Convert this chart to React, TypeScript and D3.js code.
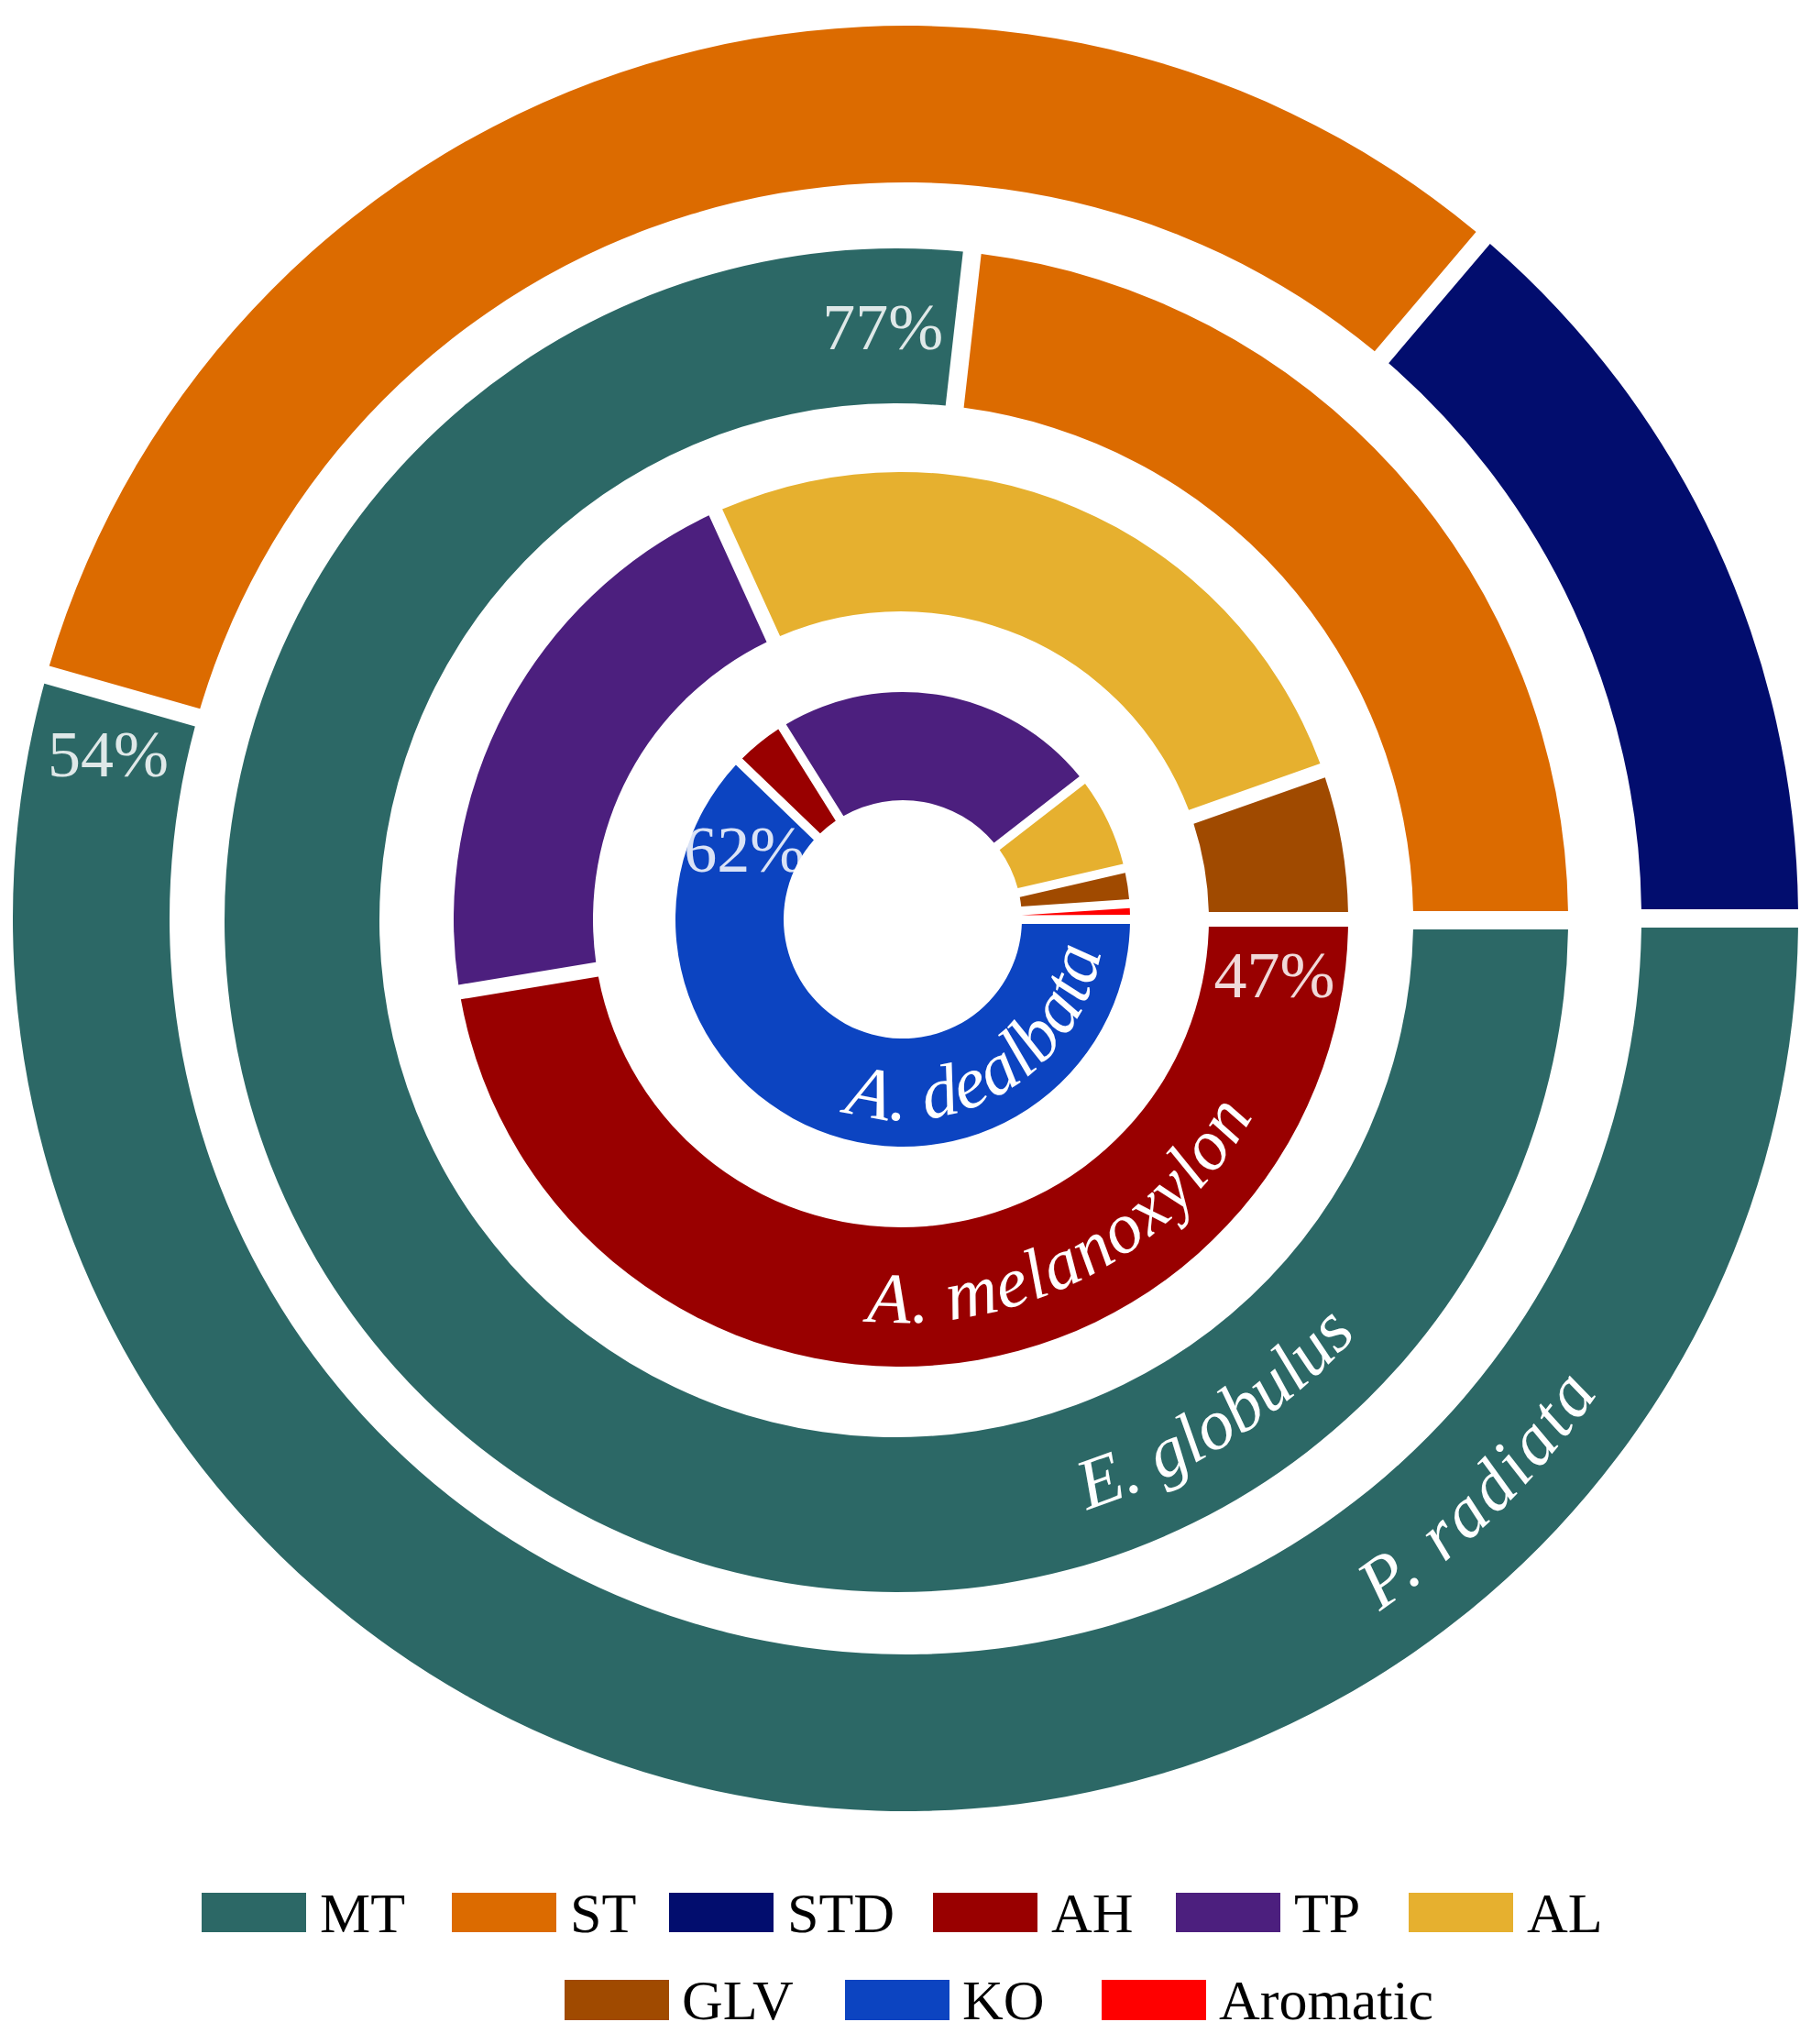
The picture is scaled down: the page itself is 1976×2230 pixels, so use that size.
import React from 'react';
import * as d3 from 'd3';

// ---------- data ----------
const categories = ['MT', 'ST', 'STD', 'AH', 'TP', 'AL', 'GLV', 'KO', 'Aromatic'];
const categoryColors = ['#2C6866', '#DC6B00', '#020D6E', '#990000', '#4C1F7E', '#E6B02F', '#A04A00', '#0C44C1', '#FF0000'];

const species = ['P. radiata', 'E. globulus', 'A. melanoxylon', 'A. dealbata'];

const pRadiataCats = ['MT', 'ST', 'STD'];
const pRadiataValues = [54.4, 31.8, 13.8];
const eGlobulusCats = ['MT', 'ST'];
const eGlobulusValues = [76.8, 23.2];
const aMelanoxylonCats = ['AH', 'TP', 'AL', 'GLV'];
const aMelanoxylonValues = [47.4, 20.8, 26.4, 5.4];
const aDealbataCats = ['KO', 'AH', 'TP', 'AL', 'GLV', 'Aromatic'];
const aDealbataValues = [62.2, 3.9, 23.4, 6.9, 2.5, 1.1];

const percentLabels = ['54%', '77%', '47%', '62%'];

const legendRow1 = ['MT', 'ST', 'STD', 'AH', 'TP', 'AL'];
const legendRow2 = ['GLV', 'KO', 'Aromatic'];

// ---------- layout ----------
const W = 1976;
const H = 2230;
const FONT = '"Liberation Serif", "Times New Roman", serif';

const ringCats = [pRadiataCats, eGlobulusCats, aMelanoxylonCats, aDealbataCats];
const ringValues = [pRadiataValues, eGlobulusValues, aMelanoxylonValues, aDealbataValues];

const ringLayout = [
  { cx: 988, cy: 1002, r0: 803, r1: 974, pad: 20, nameR: 916, nameA0: 56, nameA1: 34, nameLen: 339, nameSize: 78, pctAngle: 281.7 },
  { cx: 978, cy: 1004, r0: 564, r1: 733, pad: 20, nameR: 676, nameA0: 73, nameA1: 41, nameLen: 355, nameSize: 78, pctAngle: 358.7 },
  { cx: 983, cy: 1003, r0: 336, r1: 488, pad: 16, nameR: 440, nameA0: 96, nameA1: 28, nameLen: 505, nameSize: 78, pctAngle: 98.4 },
  { cx: 985, cy: 1003, r0: 130, r1: 248, pad: 10, nameR: 219, nameA0: 108, nameA1: 8, nameLen: 375, nameSize: 80, pctAngle: 294 },
];

const legendRow1X = [220, 493, 730, 1018, 1283, 1537];
const legendRow2X = [616, 922, 1202];

const color = d3.scaleOrdinal<string, string>().domain(categories).range(categoryColors);

const PAD_R = 1000;

function arcPath(cx: number, cy: number, r: number, a0: number, a1: number) {
  const rad = Math.PI / 180;
  const x0 = cx + r * Math.cos(a0 * rad);
  const y0 = cy + r * Math.sin(a0 * rad);
  const x1 = cx + r * Math.cos(a1 * rad);
  const y1 = cy + r * Math.sin(a1 * rad);
  const large = Math.abs(a0 - a1) > 180 ? 1 : 0;
  return `M${x0},${y0} A${r},${r} 0 ${large} 0 ${x1},${y1}`;
}

export default function App() {
  const pie = d3
    .pie<number>()
    .sort(null)
    .value((d) => d)
    .startAngle(Math.PI / 2)
    .endAngle(Math.PI / 2 + 2 * Math.PI);

  return (
    <svg
      width={W}
      height={H}
      viewBox={`0 0 ${W} ${H}`}
      style={{ position: 'absolute', left: 0, top: 0, display: 'block', background: '#fff' }}
    >
      <rect x={0} y={0} width={W} height={H} fill="#fff" />
      {ringLayout.map((L, i) => {
        const arcs = pie(ringValues[i]);
        const arcGen = d3
          .arc<d3.PieArcDatum<number>>()
          .innerRadius(L.r0)
          .outerRadius(L.r1)
          .padAngle(L.pad / PAD_R)
          .padRadius(PAD_R);
        const rMid = (L.r0 + L.r1) / 2;
        const pa = (L.pctAngle * Math.PI) / 180;
        const px = L.cx + rMid * Math.sin(pa);
        const py = L.cy - rMid * Math.cos(pa);
        const pathId = `ring-name-${i}`;
        return (
          <g key={i}>
            <g transform={`translate(${L.cx},${L.cy})`}>
              {arcs.map((a, j) => (
                <path key={j} d={arcGen(a) || ''} fill={color(ringCats[i][j])} />
              ))}
            </g>
            <path id={pathId} d={arcPath(L.cx, L.cy, L.nameR, L.nameA0, L.nameA1)} fill="none" stroke="none" />
            <text fontFamily={FONT} fontStyle="italic" fontSize={L.nameSize} fill="#fff">
              <textPath
                href={`#${pathId}`}
                startOffset="50%"
                textAnchor="middle"
                textLength={L.nameLen}
                lengthAdjust="spacing"
              >
                {species[i]}
              </textPath>
            </text>
            <text
              x={px}
              y={py}
              dy="0.35em"
              textAnchor="middle"
              fontFamily={FONT}
              fontSize={72}
              fill="#fff"
              fillOpacity={0.85}
            >
              {percentLabels[i]}
            </text>
          </g>
        );
      })}

      {/* legend */}
      {legendRow1.map((c, k) => (
        <g key={c}>
          <rect x={legendRow1X[k]} y={2065} width={114} height={43} fill={color(c)} />
          <text x={legendRow1X[k] + 129} y={2108} fontFamily={FONT} fontSize={62} fill="#000">
            {c}
          </text>
        </g>
      ))}
      {legendRow2.map((c, k) => (
        <g key={c}>
          <rect x={legendRow2X[k]} y={2160} width={114} height={44} fill={color(c)} />
          <text x={legendRow2X[k] + 128} y={2203} fontFamily={FONT} fontSize={62} fill="#000">
            {c}
          </text>
        </g>
      ))}
    </svg>
  );
}
